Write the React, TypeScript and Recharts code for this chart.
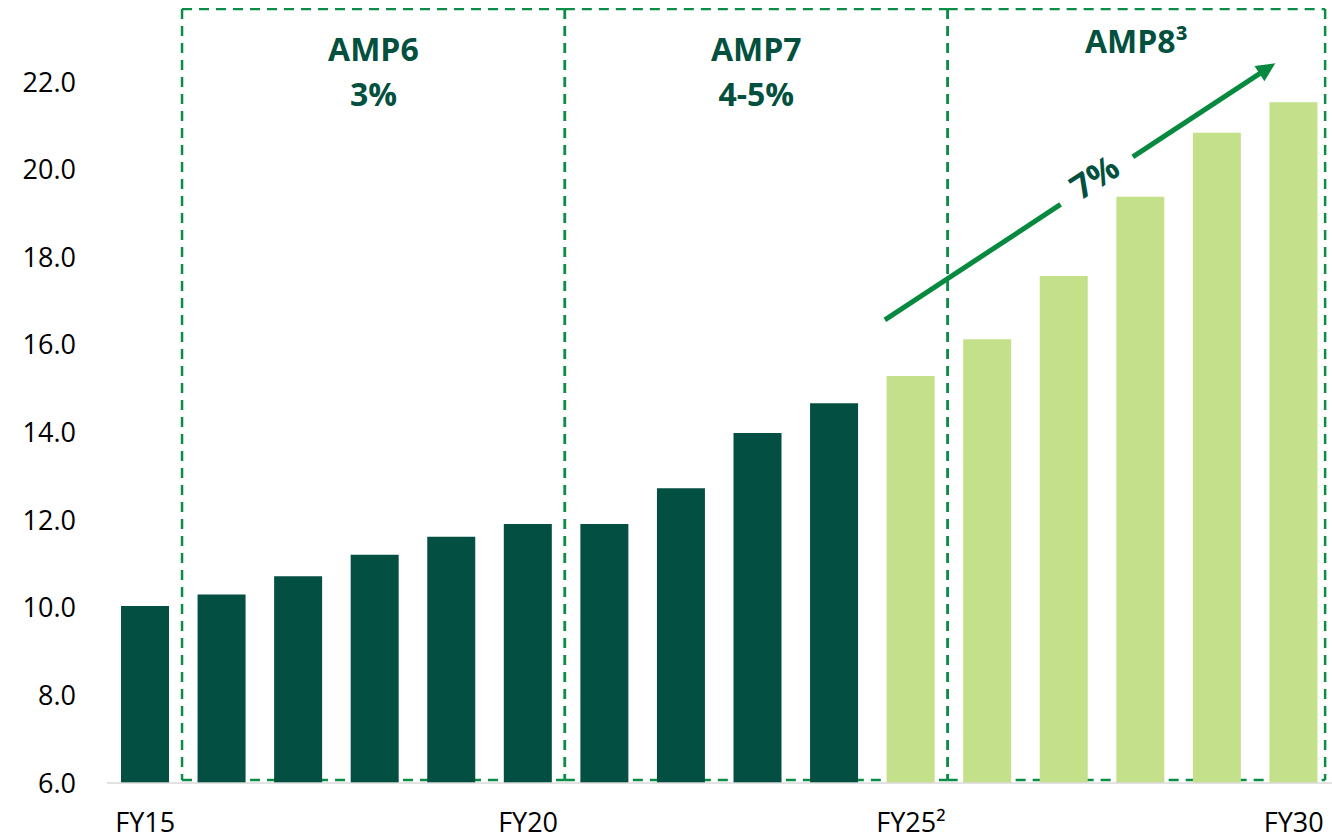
import React from 'react';
import { BarChart, Bar, XAxis, YAxis, Cell, ReferenceArea, ReferenceLine } from 'recharts';

// Financial years on the category axis
const years = [
  'FY15', 'FY16', 'FY17', 'FY18', 'FY19', 'FY20', 'FY21', 'FY22',
  'FY23', 'FY24', 'FY25', 'FY26', 'FY27', 'FY28', 'FY29', 'FY30',
];

// Regulated capital value per year
const values = [
  10.04, 10.3, 10.72, 11.21, 11.62, 11.91, 11.91, 12.73,
  13.99, 14.67, 15.29, 16.13, 17.57, 19.38, 20.84, 21.54,
];

// From FY25 onwards the figures are projections
const firstProjectedYear = 'FY25';

// Labelled x-axis ticks
const labelledYears = ['FY15', 'FY20', 'FY25', 'FY30'];
const yearLabels: Record<string, string> = { FY25: 'FY25²' };

const yTicks = [6, 8, 10, 12, 14, 16, 18, 20, 22];

// Asset management periods: first and last year, title and growth rate
const ampTitles = ['AMP6', 'AMP7', 'AMP8³'];
const ampRates = ['3%', '4-5%', ''];
const ampFirstYears = ['FY16', 'FY21', 'FY26'];
const ampLastYears = ['FY20', 'FY25', 'FY30'];

// Growth arrow over the AMP8 projection (year position, value)
const arrowFrom = { x: 9.66, y: 16.57 };
const arrowTo = { x: 14.76, y: 22.43 };
const arrowLabel = '7%';

const DARK = '#034F41';
const LIGHT = '#C5E08B';
const DASH = '#0B8C47';
const ARROW = '#078A3F';
const TITLE = '#03503F';
const FONT = '"Open Sans", sans-serif';

const rows = years.map((year, i) => ({ year, idx: i, value: values[i] }));
const projectedFrom = years.indexOf(firstProjectedYear);

const ampPeriods = ampTitles.map((title, i) => ({
  title,
  rate: ampRates[i],
  start: years.indexOf(ampFirstYears[i]) - 0.52,
  end: Math.min(years.indexOf(ampLastYears[i]) + 0.48, years.length - 0.59),
}));

const AmpLabel = ({ viewBox, title, rate }: any) => {
  const cx = viewBox.x + viewBox.width / 2;
  const top = viewBox.y;
  const single = !rate;
  return (
    <text
      x={cx}
      textAnchor="middle"
      fill={TITLE}
      fontFamily={FONT}
      fontWeight={700}
      fontSize={32}
    >
      <tspan x={cx} y={top + (single ? 44 : 52)}>{title}</tspan>
      {rate ? <tspan x={cx} y={top + 97}>{rate}</tspan> : null}
    </text>
  );
};

// Dashed period frame drawn as four separate sides
const PeriodFrame = (props: any) => {
  const { x, y, width, height } = props;
  const common = { stroke: DASH, strokeWidth: 2.5, strokeDasharray: '10 7' };
  return (
    <g>
      <line x1={x} y1={y} x2={x + width} y2={y} {...common} />
      <line x1={x} y1={y + height} x2={x + width} y2={y + height} {...common} />
      <line x1={x} y1={y} x2={x} y2={y + height} {...common} />
      <line x1={x + width} y1={y} x2={x + width} y2={y + height} {...common} />
    </g>
  );
};

const GrowthArrow = (props: any) => {
  const { x1, y1, x2, y2 } = props;
  const dx = x2 - x1;
  const dy = y2 - y1;
  const len = Math.sqrt(dx * dx + dy * dy);
  const ux = dx / len;
  const uy = dy / len;
  const head = 19;
  const half = 9;
  const gapStart = 0.45;
  const gapEnd = 0.635;
  const bx = x2 - ux * head;
  const by = y2 - uy * head;
  const angle = (Math.atan2(dy, dx) * 180) / Math.PI;
  const mid = (gapStart + gapEnd) / 2;
  const tx = x1 + dx * mid + uy * 5;
  const ty = y1 + dy * mid - ux * 5;
  return (
    <g>
      <line
        x1={x1}
        y1={y1}
        x2={x1 + dx * gapStart}
        y2={y1 + dy * gapStart}
        stroke={ARROW}
        strokeWidth={5}
      />
      <line
        x1={x1 + dx * gapEnd}
        y1={y1 + dy * gapEnd}
        x2={bx + ux * 2}
        y2={by + uy * 2}
        stroke={ARROW}
        strokeWidth={5}
      />
      <polygon
        points={`${x2},${y2} ${bx - uy * half},${by + ux * half} ${bx + uy * half},${by - ux * half}`}
        fill={ARROW}
      />
      <text
        x={tx}
        y={ty}
        transform={`rotate(${angle} ${tx} ${ty})`}
        textAnchor="middle"
        dominantBaseline="central"
        fill={TITLE}
        fontFamily={FONT}
        fontWeight={700}
        fontSize={34}
      >
        {arrowLabel}
      </text>
    </g>
  );
};

export default function App() {
  return (
    <div
      style={{
        width: 1332,
        height: 839,
        boxSizing: 'border-box',
        padding: '8px 0 0 8px',
        overflow: 'hidden',
        fontFamily: FONT,
      }}
    >
      <style>{'body { margin: 0; }'}</style>
      <BarChart
        width={1324}
        height={831}
        data={rows}
        margin={{ top: 0, right: 0, bottom: 0, left: 0 }}
        barSize={48}
      >
        <XAxis
          dataKey="year"
          interval={0}
          height={56}
          tickSize={0}
          tickMargin={30}
          tickFormatter={(v: string) =>
            labelledYears.includes(v) ? yearLabels[v] ?? v : ''
          }
          tick={{ fill: '#000', fontSize: 27, fontFamily: FONT }}
          axisLine={{ stroke: '#D9D9D9', strokeWidth: 1.5 }}
        />
        <XAxis
          xAxisId="pos"
          dataKey="idx"
          type="number"
          domain={[-0.5, years.length - 0.5]}
          allowDataOverflow
          hide
        />
        <YAxis
          width={99}
          domain={[6, 23.69]}
          ticks={yTicks}
          allowDataOverflow
          axisLine={false}
          tickSize={0}
          tickMargin={31}
          tickFormatter={(v: number) => v.toFixed(1)}
          tick={{ fill: '#000', fontSize: 27, fontFamily: FONT }}
        />
        <Bar dataKey="value" isAnimationActive={false}>
          {rows.map((r, i) => (
            <Cell key={r.year} fill={i >= projectedFrom ? LIGHT : DARK} />
          ))}
        </Bar>
        {ampPeriods.map((p) => (
          <ReferenceArea
            key={p.title}
            xAxisId="pos"
            x1={p.start}
            x2={p.end}
            y1={6.07}
            y2={23.67}
            ifOverflow="visible"
            shape={(sp: any) => <PeriodFrame {...sp} />}
            label={(lp: any) => <AmpLabel {...lp} title={p.title} rate={p.rate} />}
          />
        ))}
        <ReferenceLine
          xAxisId="pos"
          segment={[arrowFrom, arrowTo]}
          ifOverflow="visible"
          shape={(sp: any) => <GrowthArrow {...sp} />}
        />
      </BarChart>
    </div>
  );
}
